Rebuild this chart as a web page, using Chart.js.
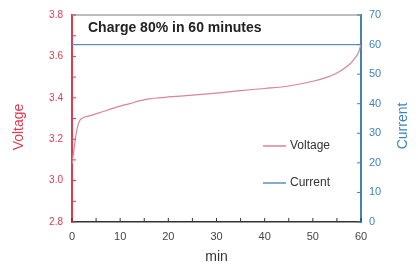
<!DOCTYPE html>
<html>
<head>
<meta charset="utf-8">
<script src="https://cdn.jsdelivr.net/npm/chart.js@4"></script>
<style>
  html, body { margin: 0; padding: 0; background: #fff; }
  #wrap { width: 418px; height: 266px; }
</style>
</head>
<body>
<div id="wrap"><canvas id="myChart" width="418" height="266"></canvas></div>
<script>
// data
var minutes = [0, 0.4, 0.9, 1.4, 2, 4, 6, 8, 10, 12, 14, 16, 18, 20, 25, 30, 35, 40, 45, 50, 53, 55, 57, 58, 59, 59.5, 60];
var voltage = [3.08, 3.15, 3.23, 3.28, 3.30, 3.315, 3.33, 3.345, 3.36, 3.372, 3.385, 3.395, 3.40, 3.404, 3.413, 3.423, 3.435, 3.445, 3.457, 3.48, 3.50, 3.52, 3.55, 3.57, 3.60, 3.62, 3.66];
var currentMinutes = [0, 60];
var current = [60, 60];
var chartTitle = "Charge 80% in 60 minutes";
var leftTitle = "Voltage";
var rightTitle = "Current";

var red = '#e2394f';
var blue = '#3f84b5';
var font = "'Liberation Sans', Arial, sans-serif";

// ticks that point into the plot, plus top border, titles and legend
var extras = {
    id: 'extras',
    afterDraw: function (chart) {
        var ctx = chart.ctx;
        var a = chart.chartArea;
        ctx.save();
        // top border
        ctx.strokeStyle = '#a8a8a8';
        ctx.lineWidth = 1.5;
        ctx.beginPath();
        ctx.moveTo(a.left, a.top);
        ctx.lineTo(a.right, a.top);
        ctx.stroke();
        // inward ticks
        var sx = chart.scales.x, sy = chart.scales.y, sy1 = chart.scales.y1;
        ctx.lineWidth = 1;
        ctx.strokeStyle = '#333';
        sx.ticks.forEach(function (t) {
            var p = sx.getPixelForValue(t.value);
            ctx.beginPath(); ctx.moveTo(p, a.bottom); ctx.lineTo(p, a.bottom - 4); ctx.stroke();
        });
        ctx.strokeStyle = red;
        sy.ticks.forEach(function (t) {
            var p = sy.getPixelForValue(t.value);
            ctx.beginPath(); ctx.moveTo(a.left, p); ctx.lineTo(a.left + 4, p); ctx.stroke();
        });
        ctx.strokeStyle = blue;
        sy1.ticks.forEach(function (t) {
            var p = sy1.getPixelForValue(t.value);
            ctx.beginPath(); ctx.moveTo(a.right, p); ctx.lineTo(a.right - 4, p); ctx.stroke();
        });
        // title inside plot
        ctx.fillStyle = '#222';
        ctx.font = 'bold 14px ' + font;
        ctx.textBaseline = 'middle';
        ctx.textAlign = 'left';
        ctx.fillText(chartTitle, a.left + 16, a.top + 13);
        // vertical axis titles
        ctx.font = '14px ' + font;
        ctx.textAlign = 'center';
        ctx.fillStyle = red;
        ctx.save(); ctx.translate(19, 127); ctx.rotate(-Math.PI / 2); ctx.fillText(leftTitle, 0, 0); ctx.restore();
        ctx.fillStyle = blue;
        ctx.save(); ctx.translate(403, 126); ctx.rotate(-Math.PI / 2); ctx.fillText(rightTitle, 0, 0); ctx.restore();
        // legend
        ctx.font = '12px ' + font;
        ctx.textAlign = 'left';
        var legendY = [146, 183];
        chart.data.datasets.forEach(function (ds, i) {
            var y = legendY[i];
            ctx.strokeStyle = ds.borderColor;
            ctx.lineWidth = 1.5;
            ctx.beginPath(); ctx.moveTo(263, y); ctx.lineTo(286, y); ctx.stroke();
            ctx.fillStyle = '#333';
            ctx.fillText(ds.label, 290, y);
        });
        ctx.restore();
    }
};

const data = {
    datasets: [{
        label: 'Voltage',
        data: minutes.map(function (m, i) { return { x: m, y: voltage[i] }; }),
        borderColor: '#d98595',
        borderWidth: 1.2,
        pointRadius: 0,
        cubicInterpolationMode: 'monotone',
        yAxisID: 'y'
    }, {
        label: 'Current',
        data: currentMinutes.map(function (m, i) { return { x: m, y: current[i] }; }),
        borderColor: '#5f8fbe',
        borderWidth: 1.2,
        pointRadius: 0,
        yAxisID: 'y1'
    }]
};

const config = {
    type: 'line',
    data,
    options: {
        responsive: false,
        animation: false,
        layout: { padding: { top: 12, left: 0, right: 0, bottom: 0 } },
        plugins: { legend: { display: false }, tooltip: { enabled: false } },
        scales: {
            x: {
                type: 'linear',
                min: 0, max: 60,
                afterFit: function (s) { s.height = 44; },
                border: { color: '#333', width: 1.5 },
                grid: { drawOnChartArea: false, drawTicks: false },
                ticks: {
                    stepSize: 5, autoSkip: false, maxRotation: 0, padding: 8,
                    color: '#444', font: { family: font, size: 11 },
                    callback: function (v) { return v % 10 === 0 ? v : ''; }
                },
                title: { display: true, text: 'min', color: '#333', font: { family: font, size: 14 }, padding: { top: 10, bottom: 0 } }
            },
            y: {
                position: 'left',
                min: 2.8, max: 3.8,
                afterFit: function (s) { s.width = 72; },
                border: { color: red, width: 2 },
                grid: { drawOnChartArea: false, drawTicks: false },
                ticks: {
                    stepSize: 0.1, autoSkip: false, padding: 9,
                    color: red, font: { family: font, size: 10 },
                    callback: function (v) {
                        var n = Math.round(v * 10);
                        return n % 2 === 0 ? (n / 10).toFixed(1) : '';
                    }
                }
            },
            y1: {
                position: 'right',
                min: 0, max: 70,
                afterFit: function (s) { s.width = 57; },
                border: { color: blue, width: 2 },
                grid: { drawOnChartArea: false, drawTicks: false },
                ticks: {
                    stepSize: 10, autoSkip: false, padding: 8,
                    color: blue, font: { family: font, size: 11 }
                }
            }
        }
    },
    plugins: [extras]
};

var myChart = new Chart(document.getElementById('myChart'), config);
</script>
</body>
</html>
